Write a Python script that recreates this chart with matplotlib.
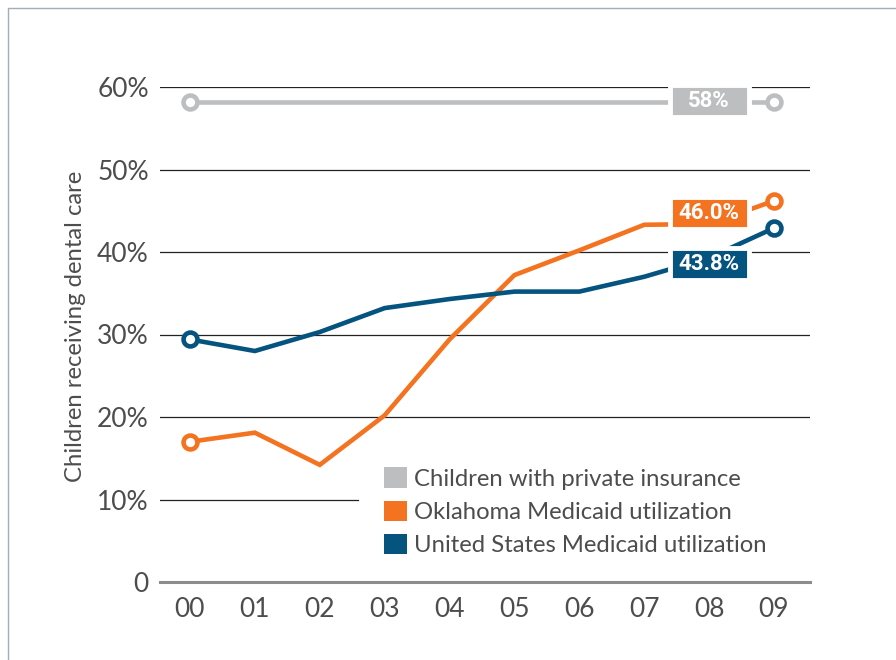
import matplotlib
matplotlib.use('Agg')
import matplotlib.pyplot as plt
from matplotlib.patches import Patch, Rectangle
from matplotlib.lines import Line2D

# data (percent of children receiving dental care)
years = ['00', '01', '02', '03', '04', '05', '06', '07', '08', '09']
private_ins = [58.2, 58.2, 58.2, 58.2, 58.2, 58.2, 58.2, 58.2, 58.2, 58.2]
oklahoma = [17.0, 18.1, 14.2, 20.2, 29.4, 37.2, 40.2, 43.3, 43.4, 46.2]
united_states = [29.4, 28.0, 30.3, 33.2, 34.3, 35.2, 35.2, 37.0, 39.3, 42.9]

series_names = ['Children with private insurance',
                'Oklahoma Medicaid utilization',
                'United States Medicaid utilization']
end_labels = ['58%', '46.0%', '43.8%']
label_y = [58.3, 44.7, 38.5]   # where the end labels sit (over 08)

gray = '#BDBEC0'
orange = '#F37321'
blue = '#05537F'
text_col = '#4D4D4D'

plt.rcParams['font.family'] = ['Lato', 'DejaVu Sans']

fig = plt.figure(figsize=(8.96, 6.6), dpi=100)
ax = fig.add_axes([160 / 896, 1 - 582 / 660, 650 / 896, 495 / 660])

x = list(range(len(years)))

# gridlines (10% line stops where the legend begins)
for v in [20, 30, 40, 50, 60]:
    ax.axhline(v, color='#222222', lw=0.9, zorder=1)
ax.axhline(10, xmax=0.305, color='#222222', lw=0.9, zorder=1)
ax.axhline(0, color='#8C8C8C', lw=2.2, zorder=8, clip_on=False)

for vals, col in zip([private_ins, oklahoma, united_states], [gray, orange, blue]):
    ax.plot(x, vals, color=col, lw=3.3, zorder=3, solid_joinstyle='miter')
    ax.plot([x[0], x[-1]], [vals[0], vals[-1]], ls='none', marker='o', ms=10,
            mfc='white', mec=col, mew=3.3, zorder=4, clip_on=False)

# end-value boxes
box_w, box_h = 1.22, 3.9
for lab, ly, col in zip(end_labels, label_y, [gray, orange, blue]):
    ax.add_patch(Rectangle((x[8] - box_w / 2, ly - box_h / 2), box_w, box_h,
                           facecolor=col, edgecolor='white', lw=3.5, zorder=5,
                           clip_on=False))
    ax.text(x[8], ly, lab, color='white', fontsize=16, fontweight='bold',
            family=['Roboto', 'DejaVu Sans'],
            ha='center', va='center', zorder=6)

ax.set_xlim(-0.462, 9.555)
ax.set_ylim(0, 60)
ax.set_xticks(x)
ax.set_xticklabels(years)
ax.set_yticks([0, 10, 20, 30, 40, 50, 60])
ax.set_yticklabels(['0', '10%', '20%', '30%', '40%', '50%', '60%'])
ax.tick_params(length=0, labelsize=19, labelcolor=text_col)
ax.tick_params(axis='x', pad=11)
ax.tick_params(axis='y', pad=8)
for s in ax.spines.values():
    s.set_visible(False)

fig.text(76 / 896, 1 - 326 / 660, 'Children receiving dental care', rotation=90,
         ha='center', va='center', fontsize=17.2, color=text_col)

handles = [Patch(facecolor=c, edgecolor='none') for c in [gray, orange, blue]]
leg = ax.legend(handles, series_names, loc='upper left',
                bbox_to_anchor=((358 - 160) / 650, (582 - 441) / 495),
                borderaxespad=0, frameon=False, fontsize=17.2,
                handlelength=0.95, handleheight=0.95, handletextpad=0.3,
                labelspacing=0.45, borderpad=1.1)
for t in leg.get_texts():
    t.set_color(text_col)
leg.set_zorder(7)

# outer frame
fig.add_artist(Line2D([8 / 896, 8 / 896, 1], [0, 1 - 8 / 660, 1 - 8 / 660],
                      transform=fig.transFigure, color='#9FAEB8', lw=1))

fig.savefig('out.png', dpi=100)
